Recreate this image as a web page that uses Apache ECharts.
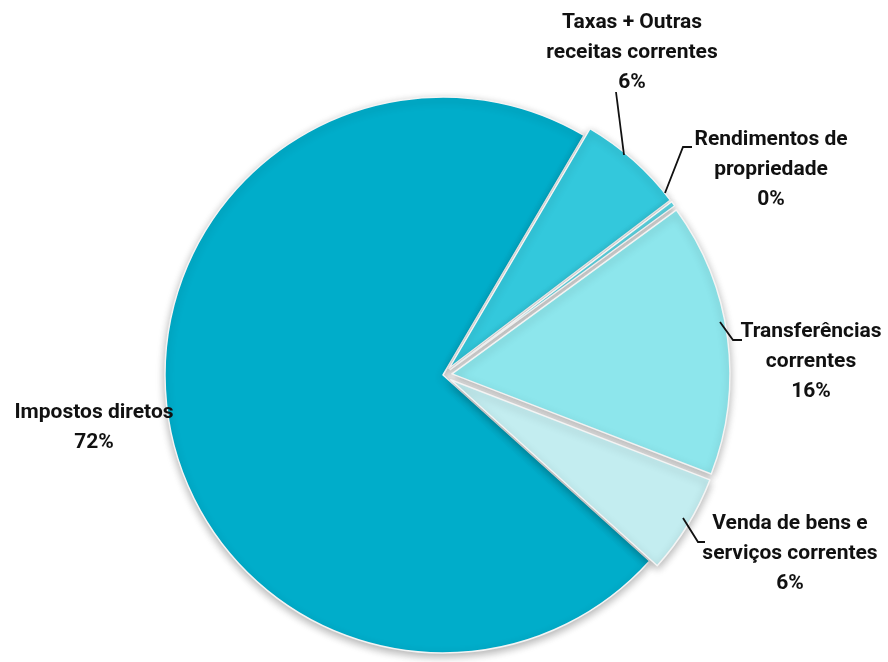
<!DOCTYPE html>
<html>
<head>
<meta charset="utf-8">
<script src="https://cdn.jsdelivr.net/npm/echarts@6/dist/echarts.min.js"></script>
<style>
  html, body { margin: 0; padding: 0; background: #fff; }
  #receitas { width: 888px; height: 662px; }
</style>
</head>
<body>
<div id="receitas"></div>
<script>
// receitas correntes, shares in %
const categorias = [
  'Impostos diretos',
  'Taxas + Outras\nreceitas correntes',
  'Rendimentos de\npropriedade',
  'Transferências\ncorrentes',
  'Venda de bens e\nserviços correntes'
];
const valores = [71.8, 6.2, 0.3, 15.9, 5.8];
const cores = ['#00adca', '#33c8dc', '#5fd7e4', '#8de6ec', '#c3edf0'];

// where each label sits, and its leader line
const posLabels = [
  { x: 94, y: 428, line: null },
  { x: 632, y: 53, line: [[624, 155], [616, 92]] },
  { x: 771, y: 170, line: [[665, 193], [683, 147], [692, 147]] },
  { x: 811, y: 362, line: [[720, 322], [733, 340], [742, 340]] },
  { x: 790, y: 554, line: [[683, 518], [698, 542], [705, 542]] }
];

const fonte = "'Liberation Sans Narrow', 'Arial Narrow', Roboto, sans-serif";
const chart = echarts.init(document.getElementById('receitas'));

// slices: all but the first one pulled out
const fatias = categorias.map(function (nome, i) {
  return {
    name: nome,
    value: valores[i],
    selected: i > 0,
    itemStyle: { color: cores[i] }
  };
});

// same data again, invisible, only carries the labels
const rotulos = categorias.map(function (nome, i) {
  return {
    name: nome,
    value: valores[i],
    labelLine: { show: i > 0 }
  };
});

chart.setOption({
  animation: false,
  series: [{
    type: 'pie',
    center: [443, 375],
    radius: 278,
    startAngle: -42,
    clockwise: true,
    selectedMode: 'multiple',
    selectedOffset: 9,
    silent: true,
    itemStyle: {
      borderColor: '#f4f4f4',
      borderWidth: 1.5,
      shadowBlur: 8,
      shadowColor: 'rgba(0,0,0,0.3)',
      shadowOffsetY: 3
    },
    label: { show: false },
    labelLine: { show: false },
    data: fatias
  }, {
    type: 'pie',
    z: 3,
    center: [443, 375],
    radius: 278,
    startAngle: -42,
    clockwise: true,
    silent: true,
    avoidLabelOverlap: false,
    percentPrecision: 0,
    itemStyle: { color: 'rgba(0,0,0,0)', borderWidth: 0 },
    label: {
      show: true,
      formatter: '{b}\n{d}%',
      fontFamily: fonte,
      fontWeight: 'bold',
      fontSize: 21,
      lineHeight: 30,
      color: '#111',
      align: 'center'
    },
    labelLine: {
      show: true,
      length: 10,
      length2: 10,
      lineStyle: { color: '#111', width: 1.8 }
    },
    labelLayout: function (p) {
      const pos = posLabels[p.dataIndex];
      const out = { x: pos.x, y: pos.y, align: 'center', verticalAlign: 'middle' };
      if (pos.line) out.labelLinePoints = pos.line;
      return out;
    },
    data: rotulos
  }]
});
</script>
</body>
</html>
